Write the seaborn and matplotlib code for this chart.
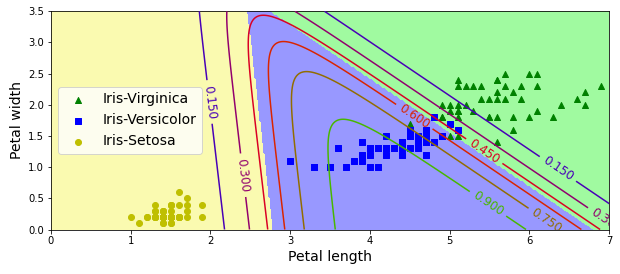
import numpy as np
import pandas as pd
import matplotlib
matplotlib.use("Agg")
import matplotlib.pyplot as plt
import seaborn as sns
from matplotlib.colors import ListedColormap

# Iris petal measurements (length, width)
setosa_length = [1.4,1.4,1.3,1.5,1.4,1.7,1.4,1.5,1.4,1.5,1.5,1.6,1.4,1.1,1.2,1.5,1.3,1.4,1.7,1.5,
                 1.7,1.5,1.0,1.7,1.9,1.6,1.6,1.5,1.4,1.6,1.6,1.5,1.5,1.4,1.5,1.2,1.3,1.4,1.3,1.5,
                 1.3,1.3,1.3,1.6,1.9,1.4,1.6,1.4,1.5,1.4]
setosa_width = [0.2,0.2,0.2,0.2,0.2,0.4,0.3,0.2,0.2,0.1,0.2,0.2,0.1,0.1,0.2,0.4,0.4,0.3,0.3,0.3,
                0.2,0.4,0.2,0.5,0.2,0.2,0.4,0.2,0.2,0.2,0.2,0.4,0.1,0.2,0.2,0.2,0.2,0.1,0.2,0.2,
                0.3,0.3,0.2,0.6,0.4,0.3,0.2,0.2,0.2,0.2]
versicolor_length = [4.7,4.5,4.9,4.0,4.6,4.5,4.7,3.3,4.6,3.9,3.5,4.2,4.0,4.7,3.6,4.4,4.5,4.1,4.5,3.9,
                     4.8,4.0,4.9,4.7,4.3,4.4,4.8,5.0,4.5,3.5,3.8,3.7,3.9,5.1,4.5,4.5,4.7,4.4,4.1,4.0,
                     4.4,4.6,4.0,3.3,4.2,4.2,4.2,4.3,3.0,4.1]
versicolor_width = [1.4,1.5,1.5,1.3,1.5,1.3,1.6,1.0,1.3,1.4,1.0,1.5,1.0,1.4,1.3,1.4,1.5,1.0,1.5,1.1,
                    1.8,1.3,1.5,1.2,1.3,1.4,1.4,1.7,1.5,1.0,1.1,1.0,1.2,1.6,1.5,1.6,1.5,1.3,1.3,1.3,
                    1.2,1.4,1.2,1.0,1.3,1.2,1.3,1.3,1.1,1.3]
virginica_length = [6.0,5.1,5.9,5.6,5.8,6.6,4.5,6.3,5.8,6.1,5.1,5.3,5.5,5.0,5.1,5.3,5.5,6.7,6.9,5.0,
                    5.7,4.9,6.7,4.9,5.7,6.0,4.8,4.9,5.6,5.8,6.1,6.4,5.6,5.1,5.6,6.1,5.6,5.5,4.8,5.4,
                    5.6,5.1,5.1,5.9,5.7,5.2,5.0,5.2,5.4,5.1]
virginica_width = [2.5,1.9,2.1,1.8,2.2,2.1,1.7,1.8,1.8,2.5,2.0,1.9,2.1,2.0,2.4,2.3,1.8,2.2,2.3,1.5,
                   2.3,2.0,2.0,1.8,2.1,1.8,1.8,1.8,2.1,1.6,1.9,2.0,2.2,1.5,1.4,2.3,2.4,1.8,1.8,2.1,
                   2.4,2.3,1.9,2.3,2.5,2.3,1.9,2.0,2.3,1.8]

class_names = ["Iris-Setosa", "Iris-Versicolor", "Iris-Virginica"]
region_colors = ['#fafab0', '#9898ff', '#a0faa0']
contour_levels = [0.0, 0.15, 0.30, 0.45, 0.60, 0.75, 0.90, 1.05]
C_reg = 1.0

# where the contour labels sit (layout, data coords)
label_spots = [(2.016, 2.05), (2.434, 0.874), (4.566, 1.825), (5.445, 1.275),
               (6.364, 0.981), (5.486, 0.42), (6.238, 0.18), (6.97, 0.16)]

df = pd.concat([
    pd.DataFrame({"length": setosa_length, "width": setosa_width, "cls": 0}),
    pd.DataFrame({"length": versicolor_length, "width": versicolor_width, "cls": 1}),
    pd.DataFrame({"length": virginica_length, "width": virginica_width, "cls": 2}),
], ignore_index=True)

# --- multinomial logistic regression (L2 penalty), fitted with Newton's method ---
X = df[["length", "width"]].to_numpy()
y = df["cls"].to_numpy()
n = len(y)
K = 3
Xt = np.c_[X, np.ones(n)]
Y = np.eye(K)[y]
theta = np.zeros((K, 3))
pen = np.array([1.0, 1.0, 0.0])

def probs(th, A):
    z = A @ th.T
    z -= z.max(axis=1, keepdims=True)
    e = np.exp(z)
    return e / e.sum(axis=1, keepdims=True)

def objective(th):
    P = probs(th, Xt)
    return 0.5 * np.sum((th[:, :2]) ** 2) - C_reg * np.sum(Y * np.log(P + 1e-300))

for it in range(200):
    P = probs(theta, Xt)
    G = C_reg * (P - Y).T @ Xt + theta * pen
    H = np.zeros((K * 3, K * 3))
    for i in range(n):
        S = np.diag(P[i]) - np.outer(P[i], P[i])
        H += C_reg * np.kron(S, np.outer(Xt[i], Xt[i]))
    H += np.diag(np.tile(pen, K)) + 1e-9 * np.eye(K * 3)
    step = np.linalg.lstsq(H, G.ravel(), rcond=None)[0].reshape(K, 3)
    f0 = objective(theta)
    t = 1.0
    while objective(theta - t * step) > f0 and t > 1e-8:
        t *= 0.5
    theta = theta - t * step
    if np.abs(G).max() < 1e-10:
        break

gx = np.linspace(0, 8, 500)
gy = np.linspace(0, 3.5, 200)
x0, x1 = np.meshgrid(gx, gy)
grid = np.c_[x0.ravel(), x1.ravel(), np.ones(x0.size)]
Pg = probs(theta, grid)
zz = Pg.argmax(axis=1).reshape(x0.shape)
zz1 = Pg[:, 1].reshape(x0.shape)

# --- figure ---
W, Hh = 620, 274
fig = plt.figure(figsize=(W / 72, Hh / 72), dpi=72)
ax = fig.add_axes([51 / W, 1 - 229.5 / Hh, (609 - 51) / W, (229.5 - 11.3) / Hh])

ax.contourf(x0, x1, zz, levels=[-0.5, 0.5, 1.5, 2.5],
            cmap=ListedColormap(region_colors), zorder=1)

styles = [(2, "g", "^"), (1, "b", "s"), (0, "y", "o")]
for cls, col, mk in styles:
    sub = df[df["cls"] == cls]
    sns.scatterplot(data=sub, x="length", y="width", color=col, marker=mk,
                    s=36, edgecolor=col, linewidth=1, label=class_names[cls],
                    ax=ax, zorder=2)

cs = ax.contour(x0, x1, zz1, levels=contour_levels, cmap=plt.cm.brg, zorder=3)
ax.set_xlim(0, 7)
ax.set_ylim(0, 3.5)
ax.clabel(cs, inline=1, fontsize=12, fmt="%1.3f", manual=label_spots)

ax.set_xticks(np.arange(0, 8, 1))
ax.set_yticks(np.arange(0, 3.51, 0.5))
ax.tick_params(labelsize=10)
ax.set_xlabel("Petal length", fontsize=14)
ax.set_ylabel("Petal width", fontsize=14)
ax.legend(loc="center left", fontsize=14)

fig.savefig("out.png", dpi=72)
